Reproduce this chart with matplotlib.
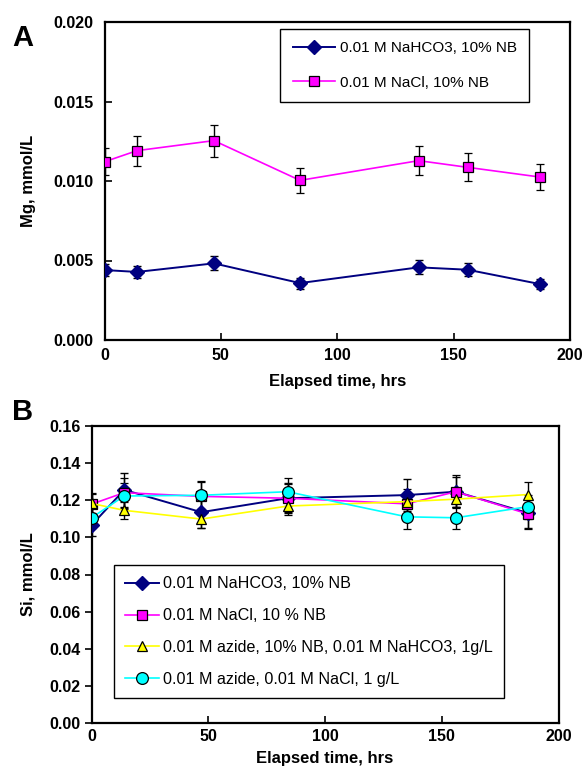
import matplotlib
matplotlib.use("Agg")
import matplotlib.pyplot as plt

plt.rcParams['font.family'] = ['Liberation Sans', 'DejaVu Sans']

# Sampling times (hours)
hours = [0, 14, 47, 84, 135, 156, 187]

# Panel A: Mg release (mmol/L)
mg_nahco3 = [0.00440, 0.00428, 0.00482, 0.00358, 0.00457, 0.00442, 0.00352]
mg_nahco3_err = [0.00040, 0.00038, 0.00044, 0.00035, 0.00045, 0.00040, 0.00033]
mg_nacl = [0.01121, 0.01191, 0.01254, 0.01004, 0.01128, 0.01086, 0.01025]
mg_nacl_err = [0.00085, 0.00095, 0.00100, 0.00080, 0.00090, 0.00087, 0.00083]

# Panel B: Si release (mmol/L)
si_nahco3 = [0.1065, 0.1255, 0.1135, 0.1210, 0.1227, 0.1245, 0.1130]
si_nahco3_err = [0.0060, 0.0090, 0.0085, 0.0080, 0.0085, 0.0080, 0.0080]
si_nacl = [0.1178, 0.1240, 0.1220, 0.1210, 0.1180, 0.1245, 0.1125]
si_nacl_err = [0.0060, 0.0080, 0.0080, 0.0075, 0.0080, 0.0088, 0.0080]
si_azide_nahco3 = [0.1182, 0.1145, 0.1098, 0.1168, 0.1192, 0.1205, 0.1230]
si_azide_nahco3_err = [0.0050, 0.0045, 0.0050, 0.0050, 0.0040, 0.0040, 0.0065]
si_azide_nacl = [0.1105, 0.1222, 0.1226, 0.1245, 0.1110, 0.1105, 0.1165]
si_azide_nacl_err = [0.0055, 0.0070, 0.0075, 0.0075, 0.0065, 0.0060, 0.0065]

labels_a = ['0.01 M NaHCO3, 10% NB', '0.01 M NaCl, 10% NB']
labels_b = ['0.01 M NaHCO3, 10% NB', '0.01 M NaCl, 10 % NB',
            '0.01 M azide, 10% NB, 0.01 M NaHCO3, 1g/L',
            '0.01 M azide, 0.01 M NaCl, 1 g/L']

W, H = 585, 772
fig = plt.figure(figsize=(W / 100, H / 100), dpi=100)


def frac_box(x0, y0, x1, y1):
    return [x0 / W, 1 - y1 / H, (x1 - x0) / W, (y1 - y0) / H]


ax_a = fig.add_axes(frac_box(104.5, 22, 570, 340))
ax_b = fig.add_axes(frac_box(91.5, 425.7, 558.6, 723.3))

label_font = dict(fontsize=12, fontweight='bold')
eb_kw = dict(ecolor='black', elinewidth=1.0, capsize=3.2, capthick=1.0)

# ---- Panel A ----
c1 = ax_a.errorbar(hours, mg_nahco3, yerr=mg_nahco3_err, color='#000080', lw=1.4,
                   marker='D', ms=7, mfc='#000080', mec='#000080',
                   zorder=3, **eb_kw)
c2 = ax_a.errorbar(hours, mg_nacl, yerr=mg_nacl_err, color='#FF00FF', lw=1.2,
                   marker='s', ms=7, mfc='#FF00FF', mec='black', mew=0.9,
                   zorder=3, **eb_kw)
ax_a.set_xlim(0, 200)
ax_a.set_ylim(0, 0.020)
ax_a.set_xticks([0, 50, 100, 150, 200])
ax_a.set_yticks([0.0, 0.005, 0.010, 0.015, 0.020])
ax_a.set_yticklabels(['0.000', '0.005', '0.010', '0.015', '0.020'])
ax_a.set_xlabel('Elapsed time, hrs', labelpad=8, **label_font)
ax_a.set_ylabel('Mg, mmol/L', labelpad=12, **label_font)
ax_a.tick_params(axis='x', direction='in', length=5, width=1.2, pad=6)
ax_a.tick_params(axis='y', direction='in', length=5, width=1.2, pad=8)
for lab in ax_a.get_xticklabels() + ax_a.get_yticklabels():
    lab.set_fontsize(11.5)
    lab.set_fontweight('bold')
for s in ax_a.spines.values():
    s.set_linewidth(1.6)
leg_a = ax_a.legend([c1[0], c2[0]], labels_a, loc='upper left',
                    bbox_to_anchor=(0.378, 0.978),
                    fontsize=11, frameon=True, fancybox=False, framealpha=1,
                    edgecolor='black', handlelength=2.8, labelspacing=1.35,
                    borderpad=0.8, handletextpad=0.3, borderaxespad=0)
leg_a.get_frame().set_linewidth(1.0)
fig.text(12 / W, 1 - 38 / H, 'A', fontsize=21, fontweight='bold', va='center')

# ---- Panel B ----
d1 = ax_b.errorbar(hours, si_nahco3, yerr=si_nahco3_err, color='#000080', lw=1.4,
                   marker='D', ms=7, mfc='#000080', mec='#000080',
                   zorder=3, **eb_kw)
d2 = ax_b.errorbar(hours, si_nacl, yerr=si_nacl_err, color='#FF00FF', lw=1.2,
                   marker='s', ms=7, mfc='#FF00FF', mec='black', mew=0.9,
                   zorder=3, **eb_kw)
d3 = ax_b.errorbar(hours, si_azide_nahco3, yerr=si_azide_nahco3_err,
                   color='#FFFF00', lw=1.2, marker='^', ms=7, mfc='#FFFF00',
                   mec='black', mew=0.9, zorder=3, **eb_kw)
d4 = ax_b.errorbar(hours, si_azide_nacl, yerr=si_azide_nacl_err,
                   color='#00FFFF', lw=1.2, marker='o', ms=8.5, mfc='#00FFFF',
                   mec='black', mew=0.9, zorder=3, **eb_kw)
ax_b.set_xlim(0, 200)
ax_b.set_ylim(0, 0.16)
ax_b.set_xticks([0, 50, 100, 150, 200])
ax_b.set_yticks([0.00, 0.02, 0.04, 0.06, 0.08, 0.10, 0.12, 0.14, 0.16])
ax_b.set_yticklabels(['0.00', '0.02', '0.04', '0.06', '0.08', '0.10',
                      '0.12', '0.14', '0.16'])
ax_b.set_xlabel('Elapsed time, hrs', labelpad=5, **label_font)
ax_b.set_ylabel('Si, mmol/L', labelpad=10, **label_font)
ax_b.tick_params(axis='x', direction='in', length=5, width=1.2, pad=4)
ax_b.tick_params(axis='y', direction='out', length=5, width=1.2, pad=3)
for lab in ax_b.get_xticklabels() + ax_b.get_yticklabels():
    lab.set_fontsize(11.5)
    lab.set_fontweight('bold')
for s in ax_b.spines.values():
    s.set_linewidth(1.6)
leg_b = ax_b.legend([d1[0], d2[0], d3[0], d4[0]], labels_b, loc='upper left',
                    bbox_to_anchor=(0.048, 0.532),
                    fontsize=11.6, frameon=True, fancybox=False, framealpha=1,
                    edgecolor='black', handlelength=2.1, labelspacing=1.05,
                    borderpad=0.7, handletextpad=0.25, borderaxespad=0)
leg_b.get_frame().set_linewidth(1.0)
fig.text(12 / W, 1 - 412 / H, 'B', fontsize=21, fontweight='bold', va='center')

fig.savefig('out.png', dpi=100)
